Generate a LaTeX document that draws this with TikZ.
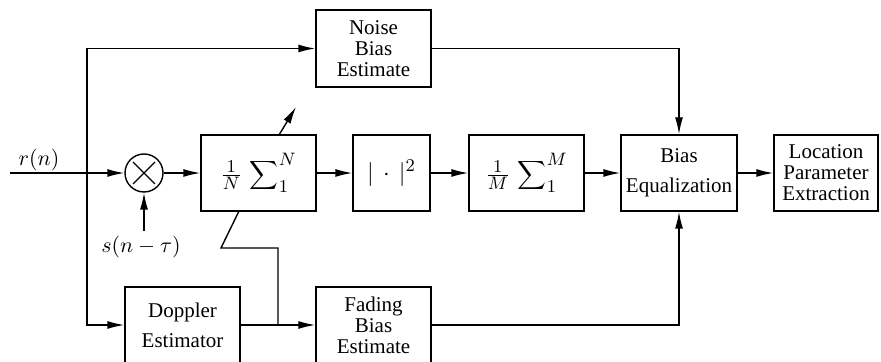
\documentclass[tikz,border=0pt]{standalone}
\usepackage{fontspec}
\setmainfont{Liberation Serif}
\usetikzlibrary{arrows.meta,calc}
\begin{document}
\begin{tikzpicture}[x=0.5pt,y=-0.5pt,
  line width=0.7pt,
  box/.style={draw, rectangle, align=center, inner sep=0pt, minimum height=38pt,
    font=\fontsize{10.5}{10.5}\selectfont},
  mathbox/.style={box, font=\fontsize{12.5}{14}\selectfont},
  lbl/.style={inner sep=0pt, font=\fontsize{11}{12}\selectfont},
  arr/.style={-{Latex[length=8.5pt,width=4pt]}},
]
\path[use as bounding box, clip] (0,0) rectangle (881,362);

% blocks
\node[box, minimum width=57.5pt, minimum height=38.5pt] (noise) at (373.5,48.5) {Noise\\Bias\\Estimate};
\node[draw, circle, inner sep=0pt, minimum size=19pt] (mult) at (144,173) {};
\draw (mult.center) ++(-11,-11) -- ++(22,22);
\draw (mult.center) ++(-11,11) -- ++(22,-22);
\node[mathbox, minimum width=57.5pt] (sumN) at (258.5,173) {$\textstyle\frac{1}{N}\,\displaystyle\sum\nolimits_1^N$};
\node[mathbox, minimum width=38.5pt] (abs) at (391.5,173) {$|\,\cdot\,|^2$};
\node[mathbox, minimum width=57.5pt] (sumM) at (526.5,173) {$\textstyle\frac{1}{M}\,\displaystyle\sum\nolimits_1^M$};
\node[box, minimum width=58pt] (beq) at (679,173) {Bias\\[4.5pt]Equalization};
\node[box, minimum width=52pt] (loc) at (826,173) {Location\\Parameter\\Extraction};
\node[box, minimum width=57.5pt] (doppler) at (182.5,325) {Doppler\\[4.5pt]Estimator};
\node[box, minimum width=57.5pt] (fading) at (373.5,325) {Fading\\Bias\\Estimate};

% labels
\node[lbl] (rn) at (39,160) {$r(n)$};
\node[lbl] (sn) at (141,247) {$s(n-\tau)$};

% coordinates
\coordinate (in) at (10,173);
\coordinate (j) at (87,173);
\coordinate (sS) at (144,231);
\coordinate (br) at (278,325);
\coordinate (k1) at (278,248);
\coordinate (k2) at (221,248);
\coordinate (k3) at (239,211);
\coordinate (d1) at (279,135);
\coordinate (d2) at (296,107);

% connectors
\draw[arr] (in) -- (mult);
\draw[arr] (j) |- (noise.west);
\draw[arr] (j) |- (doppler.west);
\draw[arr] (sS) -- (mult.south);
\draw[arr] (mult) -- (sumN);
\draw[arr] (sumN) -- (abs);
\draw[arr] (abs) -- (sumM);
\draw[arr] (sumM) -- (beq);
\draw[arr] (beq) -- (loc);
\draw[arr] (noise.east) -| (beq.north);
\draw[arr] (fading.east) -| (beq.south);
\draw[arr] (doppler.east) -- (fading.west);
\draw (br) -- (k1) -- (k2) -- (k3);
\draw[arr] (d1) -- (d2);
\end{tikzpicture}
\end{document}
